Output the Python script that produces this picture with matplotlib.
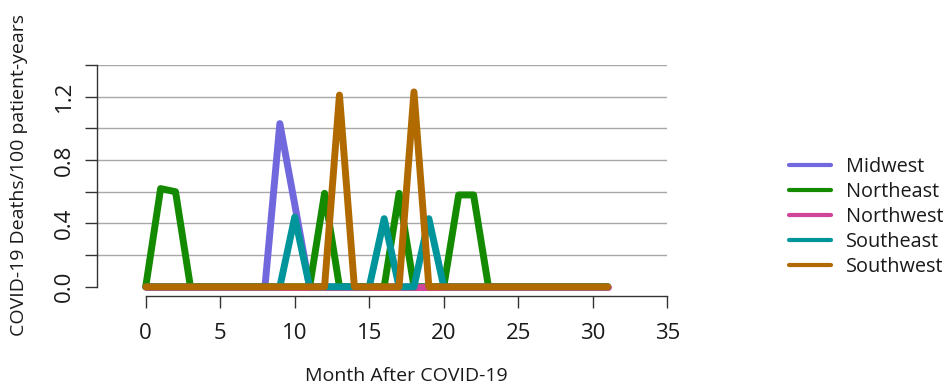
import matplotlib
matplotlib.use("Agg")
import matplotlib.pyplot as plt
from matplotlib.lines import Line2D

plt.rcParams['font.family'] = ['Open Sans', 'DejaVu Sans']

months = list(range(0, 32))
regions = ["Midwest", "Northeast", "Northwest", "Southeast", "Southwest"]

def series(peaks):
    vals = [0.0] * len(months)
    for m, v in peaks.items():
        vals[m] = v
    return vals

midwest = series({9: 1.03, 10: 0.52})
northeast = series({1: 0.62, 2: 0.60, 12: 0.59, 17: 0.59, 21: 0.58, 22: 0.58})
northwest = series({})
southeast = series({10: 0.44, 16: 0.43, 19: 0.43})
southwest = series({13: 1.21, 18: 1.23})
values = [midwest, northeast, northwest, southeast, southwest]

colors = ["#7068DC", "#138A00", "#D0449A", "#00959A", "#B06A00"]

x_ticks = [0, 5, 10, 15, 20, 25, 30, 35]
y_ticks = [0.0, 0.2, 0.4, 0.6, 0.8, 1.0, 1.2, 1.4]
y_labels = ["0.0", "", "0.4", "", "0.8", "", "1.2", ""]

W, H = 948, 385
fig = plt.figure(figsize=(W / 100, H / 100), dpi=100)
left, right, bottom, top = 96.7, 667.3, 296.0, 65.0
ax = fig.add_axes([left / W, 1 - bottom / H, (right - left) / W, (bottom - top) / H])
ax.set_xlim(-3.29, 35)
ax.set_ylim(-0.058, 1.4)

for yv in y_ticks[1:]:
    ax.axhline(yv, color="#a8a8a8", lw=1.0, zorder=0)

for vals, c, name in zip(values, colors, regions):
    ax.plot(months, vals, color=c, lw=5, solid_capstyle="round",
            solid_joinstyle="round", label=name, clip_on=False)

for s in ["top", "right"]:
    ax.spines[s].set_visible(False)
ax.spines["left"].set_bounds(0, 1.4)
ax.spines["bottom"].set_bounds(0, 35)
for s in ["left", "bottom"]:
    ax.spines[s].set_color("#333333")
    ax.spines[s].set_linewidth(1.0)

ax.set_xticks(x_ticks)
ax.set_xticklabels([str(v) for v in x_ticks])
ax.set_yticks(y_ticks)
ax.set_yticklabels(y_labels, rotation=90, va="center")
ax.tick_params(axis="both", length=8.6, width=1.0, color="#333333",
               labelsize=16, labelcolor="#1a1a1a")
ax.tick_params(axis="x", pad=11)
ax.tick_params(axis="y", pad=7)

fig.text(406 / W, 1 - 376 / H, "Month After COVID-19", ha="center", va="center",
         fontsize=14, color="#1a1a1a")
fig.text(19 / W, 1 - 175 / H, "COVID-19 Deaths/100 patient-years", ha="center",
         va="center", rotation=90, fontsize=14, color="#1a1a1a")

handles = [Line2D([0], [0], color=c, lw=3, solid_capstyle="round") for c in colors]
fig.legend(handles, regions, loc="center left", bbox_to_anchor=(789 / W, 1 - 217 / H),
           frameon=False, fontsize=14.3, handlelength=2.1, handletextpad=0.75,
           labelspacing=0.25, borderaxespad=0, borderpad=0, labelcolor="#1a1a1a")

fig.savefig("out.png", dpi=100)
